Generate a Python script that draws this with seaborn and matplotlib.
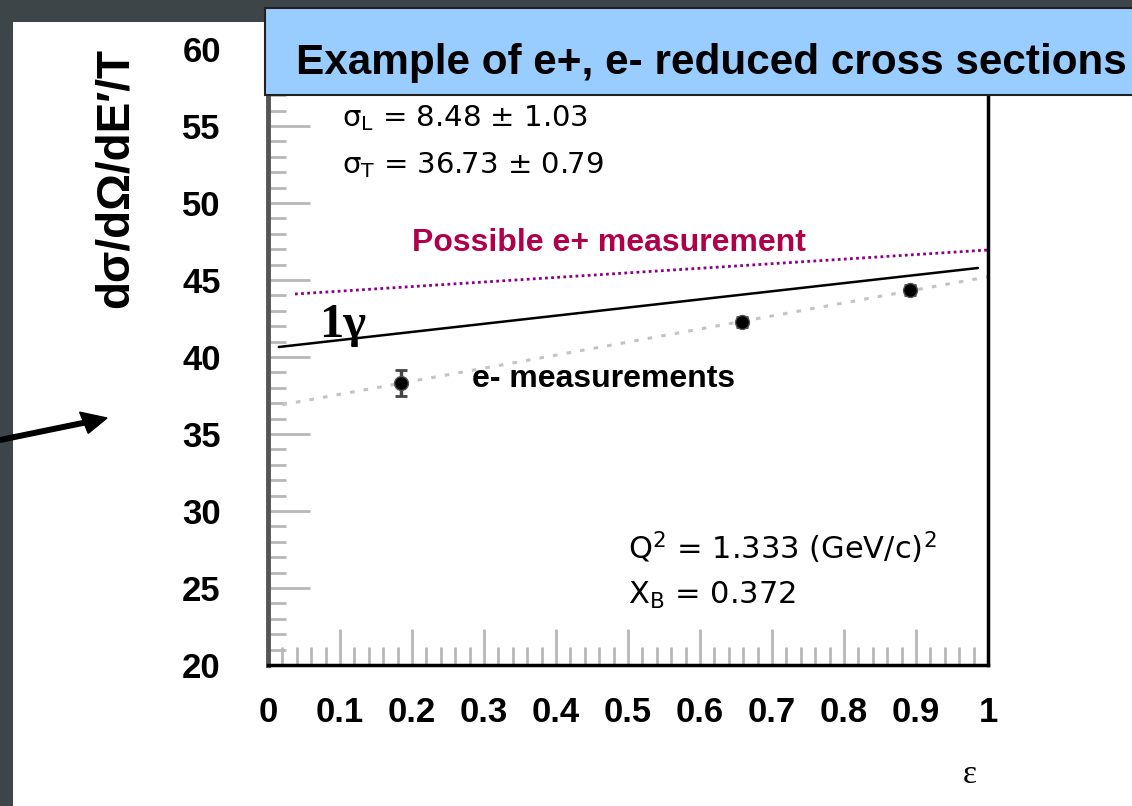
import matplotlib
matplotlib.use("Agg")
import matplotlib.pyplot as plt
from matplotlib.patches import Rectangle, FancyArrow
from matplotlib.ticker import MultipleLocator
import seaborn as sns
import pandas as pd

# ---- data ----
eps_points = [0.185, 0.658, 0.892]
sigma_points = [38.3, 42.27, 44.35]
sigma_err = [0.85, 0.3, 0.3]

fit_eps = [0.02, 1.0]
fit_vals = [36.90, 45.21]          # sigma_T + eps*sigma_L fit

onegamma_eps = [0.015, 0.986]
onegamma_vals = [40.65, 45.78]

eplus_eps = [0.0375, 1.0]
eplus_vals = [44.09, 46.95]

x_ticks = [0, 0.1, 0.2, 0.3, 0.4, 0.5, 0.6, 0.7, 0.8, 0.9, 1]
x_tick_labels = ["0", "0.1", "0.2", "0.3", "0.4", "0.5", "0.6", "0.7", "0.8", "0.9", "1"]
y_ticks = [20, 25, 30, 35, 40, 45, 50, 55, 60]
y_tick_labels = ["20", "25", "30", "35", "40", "45", "50", "55", "60"]

sns.set_theme(style="white")
plt.rcParams['font.family'] = ['Liberation Sans', 'DejaVu Sans']
plt.rcParams['text.color'] = 'black'
plt.rcParams['xtick.color'] = 'black'
plt.rcParams['ytick.color'] = 'black'

W, H = 1132, 806
fig = plt.figure(figsize=(W / 100, H / 100), dpi=100)
fig.patch.set_facecolor("#3d4548")
fig.add_artist(Rectangle((13 / W, 0), 1, 1 - 22 / H, transform=fig.transFigure,
                         facecolor="white", edgecolor="none", zorder=-5))

ax = fig.add_axes([268 / W, 1 - 665 / H, 720 / W, 616 / H])
ax.set_facecolor("white")

df_fit = pd.DataFrame({"eps": fit_eps, "val": fit_vals})
df_1g = pd.DataFrame({"eps": onegamma_eps, "val": onegamma_vals})
df_ep = pd.DataFrame({"eps": eplus_eps, "val": eplus_vals})
df_pts = pd.DataFrame({"eps": eps_points, "val": sigma_points, "err": sigma_err})

sns.lineplot(data=df_fit, x="eps", y="val", ax=ax, color="#c4c4c4", lw=2.2,
             linestyle=(0, (1.5, 3)), estimator=None, sort=False)
sns.lineplot(data=df_1g, x="eps", y="val", ax=ax, color="black", lw=1.8,
             estimator=None, sort=False)
sns.lineplot(data=df_ep, x="eps", y="val", ax=ax, color="#8b008b", lw=2.0,
             linestyle=(0, (1, 1.2)), estimator=None, sort=False)
ax.errorbar(df_pts["eps"], df_pts["val"], yerr=df_pts["err"], fmt="none",
            ecolor="#444444", elinewidth=2.5, capsize=4, capthick=2, zorder=4)
sns.scatterplot(data=df_pts, x="eps", y="val", ax=ax, color="black", s=100,
                edgecolor="#555555", linewidth=1, zorder=5)

ax.set_xlim(0, 1)
ax.set_ylim(20, 60)
ax.set_xticks(x_ticks)
ax.set_xticklabels(x_tick_labels)
ax.set_yticks(y_ticks)
ax.set_yticklabels(y_tick_labels)
ax.xaxis.set_minor_locator(MultipleLocator(0.02))
ax.yaxis.set_minor_locator(MultipleLocator(1))
ax.tick_params(axis="both", which="both", bottom=True, left=True, top=False, right=False)
ax.tick_params(axis="both", which="major", direction="in", color="#b8b8b8",
               width=2, labelsize=25, labelcolor="black")
ax.tick_params(axis="y", which="major", length=30, pad=34)
ax.tick_params(axis="x", which="major", length=26, pad=22)
ax.tick_params(axis="both", which="minor", direction="in", color="#b8b8b8",
               width=2, length=13)
for lab in ax.get_xticklabels() + ax.get_yticklabels():
    lab.set_fontweight("bold")
ax.set_xlabel("")
ax.set_ylabel("")

ax.spines["left"].set_color("#555555")
ax.spines["left"].set_linewidth(3.5)
ax.spines["bottom"].set_color("black")
ax.spines["bottom"].set_linewidth(2.5)
ax.spines["right"].set_color("black")
ax.spines["right"].set_linewidth(2.5)
ax.spines["top"].set_visible(False)

# annotations
dv = ["DejaVu Sans"]
ax.text(0.103, 55.5, "σ$_{\\mathrm{L}}$ = 8.48 ± 1.03", fontsize=21, va="center", ha="left", family=dv)
ax.text(0.103, 52.45, "σ$_{\\mathrm{T}}$ = 36.73 ± 0.79", fontsize=21, va="center", ha="left", family=dv)
ax.text(0.20, 47.4, "Possible e+ measurement", fontsize=23, fontweight="bold",
        color="#b0004a", va="center", ha="left")
ax.text(0.071, 42.1, "1γ", fontsize=35, fontweight="bold", family=["Liberation Serif", "DejaVu Serif"],
        va="center", ha="left")
ax.text(0.283, 38.57, "e- measurements", fontsize=23, fontweight="bold", va="center", ha="left")
ax.text(0.50, 27.6, "Q$^{2}$ = 1.333 (GeV/c)$^{2}$", fontsize=22, va="center", ha="left", family=dv)
ax.text(0.50, 24.5, "X$_{\\mathrm{B}}$ = 0.372", fontsize=22, va="center", ha="left", family=dv)

# axis titles in figure coords
fig.text(116 / W, 1 - 178 / H, "dσ/dΩ/dE′/T", rotation=90, fontsize=33, fontweight="bold",
         ha="center", va="center", family=["Liberation Sans", "DejaVu Sans"])
fig.text(970 / W, 1 - 775 / H, "ε", fontsize=24, ha="center", va="center",
         family=["Liberation Serif", "DejaVu Serif"])

# title box
fig.add_artist(Rectangle((265 / W, 1 - 95 / H), 1 - 265 / W + 0.01, 87 / H,
                         transform=fig.transFigure, facecolor="#99ccff",
                         edgecolor="#222222", linewidth=1.5, zorder=5))
fig.text(296 / W, 1 - 63 / H, "Example of e+, e- reduced cross sections",
         fontsize=30.4, fontweight="bold", ha="left", va="center", zorder=6, color="black")

# arrow
fig.add_artist(FancyArrow(0, 1 - 440 / H, 107 / W, 22 / H, width=4.5 / H,
                          head_width=22 / H, head_length=24 / W,
                          length_includes_head=True, transform=fig.transFigure,
                          color="black", zorder=6))

fig.savefig("out.png", dpi=100, facecolor=fig.get_facecolor())
